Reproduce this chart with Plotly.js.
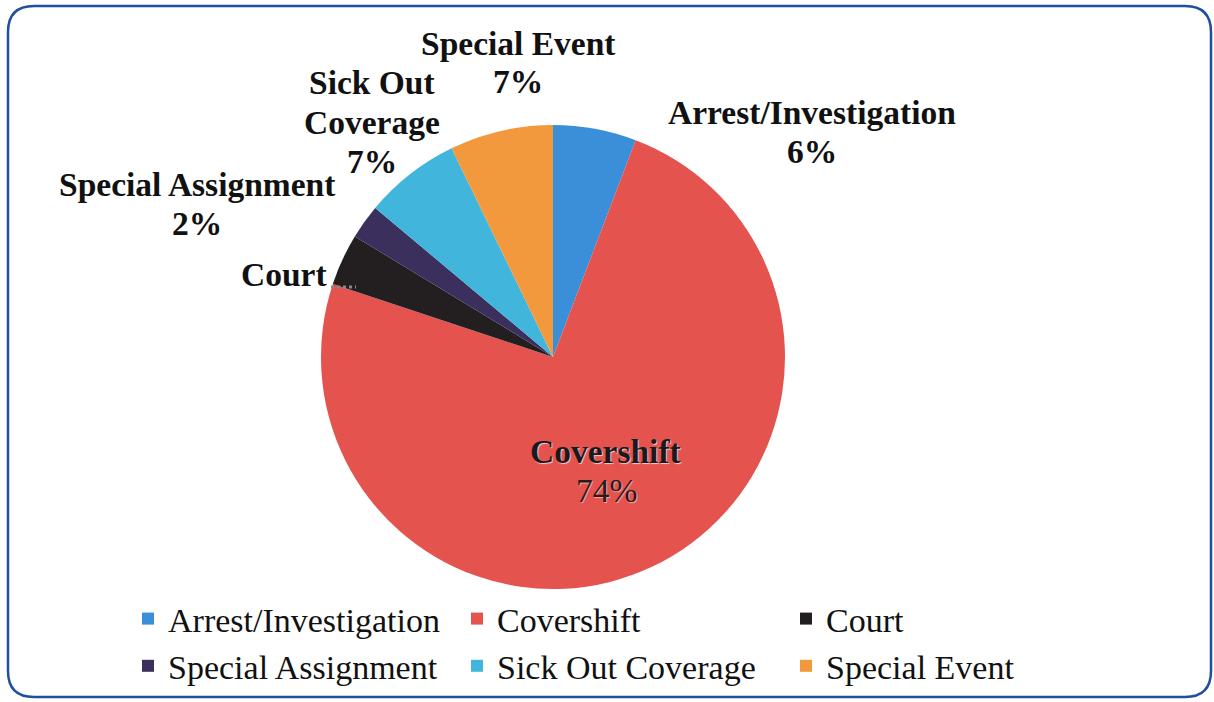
<!DOCTYPE html>
<html>
<head>
<meta charset="utf-8">
<script src="https://cdn.plot.ly/plotly-3.0.1.min.js"></script>
<style>
  html, body { margin: 0; padding: 0; background: #ffffff; }
  #chart { width: 1214px; height: 702px; }
</style>
</head>
<body>
<div id="chart"></div>
<script>
// ---- data ----
var categories = ["Arrest/Investigation", "Covershift", "Court", "Special Assignment", "Sick Out Coverage", "Special Event"];
var shares = [5.8, 74.3, 3.6, 2.4, 6.7, 7.2];
var colors = ["#3b8ed8", "#e5534f", "#231f20", "#3b2f5e", "#41b5dc", "#f3993d"];

var total = shares.reduce(function (a, b) { return a + b; }, 0);
var pctText = shares.map(function (v) { return Math.round(v / total * 100) + "%"; });

var W = 1214, H = 702;
function px(x) { return x / W; }
function py(y) { return 1 - y / H; }

var serif = "Liberation Serif, Times New Roman, serif";

// label placement (styling only)
var labelSpecs = [
  { i: 0, x: 812, y: 113, lines: ["Arrest/Investigation"] },
  { i: 5, x: 518, y: 43, lines: ["Special Event"] },
  { i: 4, x: 372, y: 83, lines: ["Sick Out", "Coverage"] },
  { i: 3, x: 197, y: 184, lines: ["Special Assignment"] }
];
var lineStep = 39;
var annotations = [];
labelSpecs.forEach(function (s) {
  var all = s.lines.concat([pctText[s.i]]);
  all.forEach(function (t, k) {
    annotations.push({
      xref: "paper", yref: "paper",
      x: px(s.x), y: py(s.y + k * lineStep),
      xanchor: "center", yanchor: "middle",
      text: "<b>" + t + "</b>", showarrow: false,
      font: { family: serif, size: 33.5, color: "#111111" }
    });
  });
});
// Court label (percentage hidden behind leader in the original)
annotations.push({
  xref: "paper", yref: "paper", x: px(239), y: py(274),
  xanchor: "left", yanchor: "middle",
  text: "<b>" + categories[2] + "</b>", showarrow: false,
  font: { family: serif, size: 33.5, color: "#111111" }
});
// Covershift inside label
annotations.push({
  xref: "paper", yref: "paper", x: px(606), y: py(451),
  xanchor: "center", yanchor: "middle",
  text: "<b>" + categories[1] + "</b>", showarrow: false,
  font: { family: serif, size: 33.5, color: "#1a1a1a", shadow: "1px 1px 1px rgba(255,255,255,0.7)" }
});
annotations.push({
  xref: "paper", yref: "paper", x: px(606), y: py(490),
  xanchor: "center", yanchor: "middle",
  text: pctText[1], showarrow: false,
  font: { family: serif, size: 33.5, color: "#2a1a1a", shadow: "1px 1px 1px rgba(255,255,255,0.5)" }
});

// rounded border
var x0 = px(8), x1 = px(1211), yT = py(6), yB = py(697);
var rx = 26 / W, ry = 26 / H;
var borderPath = "M " + (x0 + rx) + "," + yT +
  " L " + (x1 - rx) + "," + yT +
  " Q " + x1 + "," + yT + " " + x1 + "," + (yT - ry) +
  " L " + x1 + "," + (yB + ry) +
  " Q " + x1 + "," + yB + " " + (x1 - rx) + "," + yB +
  " L " + (x0 + rx) + "," + yB +
  " Q " + x0 + "," + yB + " " + x0 + "," + (yB + ry) +
  " L " + x0 + "," + (yT - ry) +
  " Q " + x0 + "," + yT + " " + (x0 + rx) + "," + yT + " Z";

var trace = {
  type: "pie",
  labels: categories,
  values: shares,
  sort: false,
  direction: "clockwise",
  rotation: 0,
  textinfo: "none",
  hoverinfo: "label+percent",
  marker: { colors: colors, line: { width: 0 } },
  domain: { x: [px(321), px(785)], y: [py(589), py(125)] }
};

var layout = {
  width: W, height: H,
  margin: { l: 0, r: 0, t: 0, b: 0 },
  paper_bgcolor: "#ffffff",
  showlegend: true,
  legend: {
    orientation: "h",
    x: px(128), y: py(590), xanchor: "left", yanchor: "top",
    font: { family: serif, size: 34, color: "#111111" },
    entrywidth: 284, entrywidthmode: "pixels",
    itemclick: false, itemdoubleclick: false,
    bgcolor: "rgba(0,0,0,0)"
  },
  annotations: annotations,
  shapes: [
    { type: "path", xref: "paper", yref: "paper", path: borderPath,
      line: { color: "#1f4f9e", width: 2.5 }, fillcolor: "rgba(0,0,0,0)" },
    { type: "line", xref: "paper", yref: "paper",
      x0: px(331), x1: px(356), y0: py(287), y1: py(287),
      line: { color: "#888888", width: 3, dash: "dot" } }
  ]
};

Plotly.newPlot("chart", [trace], layout, { displayModeBar: false, staticPlot: true });
</script>
</body>
</html>
